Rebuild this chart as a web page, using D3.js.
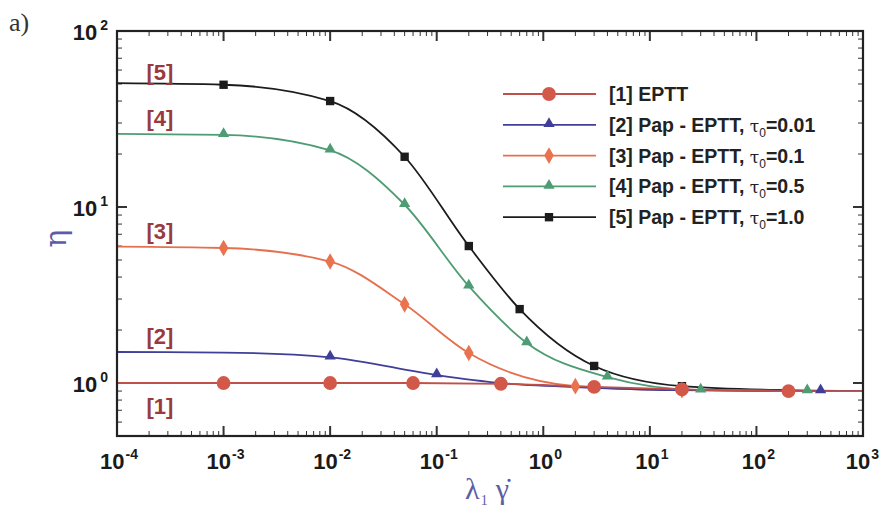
<!DOCTYPE html>
<html>
<head>
<meta charset="utf-8">
<script src="https://cdn.jsdelivr.net/npm/d3@7"></script>
<style>
  body { margin: 0; background: #fff; }
  svg { display: block; }
  .tick-label { font-family: "Liberation Sans", Arial, sans-serif; font-weight: bold; fill: #1a1a1a; }
  .legend-text { font-family: "Liberation Sans", Arial, sans-serif; font-weight: bold; fill: #222; font-size: 19.5px; }
  .series-label { font-family: "Liberation Sans", Arial, sans-serif; font-weight: bold; fill: #9a3a3c; font-size: 22px; }
</style>
</head>
<body>
<div id="chart"></div>
<script>
// values (x = lambda1*gammadot, y = eta)
const xDomain = [1e-4, 1e3]
const yDomain = [0.5, 100]
const xTickExps = [-4, -3, -2, -1, 0, 1, 2, 3]
const yTickExps = [0, 1, 2]

const legendNames = ['[1] EPTT', '[2] Pap - EPTT, ', '[3] Pap - EPTT, ', '[4] Pap - EPTT, ', '[5] Pap - EPTT, ']
const tauValues = [null, '0.01', '0.1', '0.5', '1.0']
const curveLabels = ['[1]', '[2]', '[3]', '[4]', '[5]']
const labelAnchorY = [0.67, 1.67, 6.6, 29, 52.5]  // eta level the [n] label sits at

// curve knots
const s1LineX = [1e-4, 1e-3, 1e-2, 0.06, 0.4, 3, 20, 200, 1e3]
const s1LineY = [1.0, 1.0, 1.0, 1.0, 0.99, 0.95, 0.92, 0.9, 0.9]
const s2LineX = [1e-4, 1e-3, 1e-2, 0.1, 0.4, 3, 20, 400, 1e3]
const s2LineY = [1.5, 1.49, 1.4, 1.11, 1.0, 0.94, 0.91, 0.9, 0.9]
const s3LineX = [1e-4, 1e-3, 1e-2, 0.05, 0.2, 2, 20, 1e3]
const s3LineY = [5.95, 5.85, 4.9, 2.8, 1.48, 0.96, 0.91, 0.9]
const s4LineX = [1e-4, 1e-3, 1e-2, 0.05, 0.2, 0.7, 4, 30, 300, 1e3]
const s4LineY = [26, 25.7, 21, 10.3, 3.55, 1.69, 1.08, 0.91, 0.9, 0.9]
const s5LineX = [1e-4, 1e-3, 1e-2, 0.05, 0.2, 0.6, 3, 20, 200, 1e3]
const s5LineY = [50.5, 49.5, 40, 19.3, 6.0, 2.63, 1.25, 0.96, 0.91, 0.9]

// symbols
const s1MarkX = [1e-3, 1e-2, 0.06, 0.4, 3, 20, 200]
const s1MarkY = [1.0, 1.0, 1.0, 0.99, 0.95, 0.92, 0.9]
const s2MarkX = [1e-2, 0.1, 400]
const s2MarkY = [1.4, 1.11, 0.9]
const s3MarkX = [1e-3, 1e-2, 0.05, 0.2, 2, 20]
const s3MarkY = [5.85, 4.9, 2.8, 1.48, 0.96, 0.91]
const s4MarkX = [1e-3, 1e-2, 0.05, 0.2, 0.7, 4, 30, 300]
const s4MarkY = [25.7, 21, 10.3, 3.55, 1.69, 1.08, 0.91, 0.9]
const s5MarkX = [1e-3, 1e-2, 0.05, 0.2, 0.6, 3, 20, 200]
const s5MarkY = [49.5, 40, 19.3, 6.0, 2.63, 1.25, 0.96, 0.91]

const series = [
  { line: [s1LineX, s1LineY], mark: [s1MarkX, s1MarkY], color: '#c0504a', fill: '#d2584a', symbol: d3.symbolCircle, size: 150 },
  { line: [s2LineX, s2LineY], mark: [s2MarkX, s2MarkY], color: '#3f3f9a', fill: '#3f3f9a', symbol: d3.symbolTriangle, size: 55 },
  { line: [s3LineX, s3LineY], mark: [s3MarkX, s3MarkY], color: '#e5704e', fill: '#e8734e', symbol: d3.symbolDiamond, size: 80 },
  { line: [s4LineX, s4LineY], mark: [s4MarkX, s4MarkY], color: '#4f9c74', fill: '#4f9c74', symbol: d3.symbolTriangle, size: 55 },
  { line: [s5LineX, s5LineY], mark: [s5MarkX, s5MarkY], color: '#1c1c1c', fill: '#1c1c1c', symbol: d3.symbolSquare, size: 70 }
]

const width = 880
const height = 508
const margin = { top: 31, right: 17, bottom: 72, left: 117 }

const svg = d3.select('#chart').append('svg')
  .attr('width', width)
  .attr('height', height)

const x = d3.scaleLog().domain(xDomain).range([margin.left, width - margin.right])
const y = d3.scaleLog().domain(yDomain).range([height - margin.bottom, margin.top])

const plotL = x.range()[0], plotR = x.range()[1]
const plotT = y.range()[1], plotB = y.range()[0]

// minor/major ticks on all four sides, pointing inward
const xMinor = x.ticks(70).filter(v => v >= xDomain[0] && v <= xDomain[1])
const yMinor = y.ticks(30).filter(v => v >= yDomain[0] && v <= yDomain[1])
const isMajor = v => Math.abs(Math.log10(v) - Math.round(Math.log10(v))) < 1e-9

const ticks = svg.append('g').attr('stroke', '#333')
xMinor.forEach(v => {
  const len = isMajor(v) ? 10 : 5
  ticks.append('line').attr('x1', x(v)).attr('x2', x(v)).attr('y1', plotB).attr('y2', plotB - len)
    .attr('stroke-width', isMajor(v) ? 2 : 1)
  ticks.append('line').attr('x1', x(v)).attr('x2', x(v)).attr('y1', plotT).attr('y2', plotT + len)
    .attr('stroke-width', isMajor(v) ? 2 : 1)
})
yMinor.forEach(v => {
  const len = isMajor(v) ? 10 : 5
  ticks.append('line').attr('y1', y(v)).attr('y2', y(v)).attr('x1', plotL).attr('x2', plotL + len)
    .attr('stroke-width', isMajor(v) ? 2 : 1)
  ticks.append('line').attr('y1', y(v)).attr('y2', y(v)).attr('x1', plotR).attr('x2', plotR - len)
    .attr('stroke-width', isMajor(v) ? 2 : 1)
})

// curves
const lineGen = d3.line()
  .x(d => x(d[0]))
  .y(d => y(d[1]))
  .curve(d3.curveMonotoneX)

const plot = svg.append('g')
series.slice().reverse().forEach(s => {
  const pts = d3.zip(s.line[0], s.line[1])
  plot.append('path')
    .attr('d', lineGen(pts))
    .attr('fill', 'none')
    .attr('stroke', s.color)
    .attr('stroke-width', 1.8)
})
series.slice().reverse().forEach(s => {
  const pts = d3.zip(s.mark[0], s.mark[1])
  plot.selectAll(null)
    .data(pts)
    .enter()
    .append('path')
    .attr('d', d3.symbol().type(s.symbol).size(s.size))
    .attr('transform', d => `translate(${x(d[0])},${y(d[1]) + (s.symbol === d3.symbolTriangle ? -1 : 0)})`)
    .attr('fill', s.fill)
})

// frame
svg.append('rect')
  .attr('x', plotL).attr('y', plotT)
  .attr('width', plotR - plotL).attr('height', plotB - plotT)
  .attr('fill', 'none').attr('stroke', '#222').attr('stroke-width', 2.2)

// tick labels
xTickExps.forEach((e, i) => {
  const last = i === xTickExps.length - 1
  const t = svg.append('text').attr('class', 'tick-label')
    .attr('x', last ? width - 1 : x(Math.pow(10, e)) + 2).attr('y', plotB + 33)
    .attr('text-anchor', last ? 'end' : 'middle')
  t.append('tspan').attr('font-size', 22).text('10')
  t.append('tspan').attr('font-size', 14).attr('dy', -10).attr('dx', 1).text(e < 0 ? '-' + (-e) : e)
})
yTickExps.forEach(e => {
  const t = svg.append('text').attr('class', 'tick-label')
    .attr('x', plotL - 9).attr('y', y(Math.pow(10, e)) + 9)
    .attr('text-anchor', 'end')
  t.append('tspan').attr('font-size', 22).text('10')
  t.append('tspan').attr('font-size', 14).attr('dy', -10).attr('dx', 3).text(e)
})

// axis titles
svg.append('text')
  .attr('transform', `translate(66,${(plotT + plotB) / 2 + 5}) rotate(-90)`)
  .attr('text-anchor', 'middle')
  .attr('font-family', '"DejaVu Serif", "Liberation Serif", serif')
  .attr('font-size', 30)
  .attr('fill', '#5c5ca8')
  .text('η')

const xt = svg.append('text')
  .attr('x', 487).attr('y', 499)
  .attr('text-anchor', 'middle')
  .attr('font-family', '"Liberation Serif", "DejaVu Serif", serif')
  .attr('font-size', 30)
  .attr('fill', '#5c5ca8')
xt.append('tspan').text('λ')
xt.append('tspan').attr('font-size', 14).attr('dy', 6).attr('dx', 1).text('1')
xt.append('tspan').attr('dy', -6).attr('dx', 8).text('γ̇')

svg.append('text')
  .attr('x', 9).attr('y', 31)
  .attr('font-family', '"Liberation Serif", "DejaVu Serif", serif')
  .attr('font-size', 26)
  .attr('fill', '#333')
  .text('a)')

// [n] labels next to the left ends of the curves
curveLabels.forEach((lab, i) => {
  svg.append('text').attr('class', 'series-label')
    .attr('x', 160).attr('y', y(labelAnchorY[i]))
    .attr('text-anchor', 'middle')
    .text(lab)
})

// legend
const legend = svg.append('g')
const rowY = d3.range(5).map(i => 94 + i * 30.8)
series.forEach((s, i) => {
  const ry = rowY[i]
  legend.append('line')
    .attr('x1', 503).attr('x2', 596).attr('y1', ry).attr('y2', ry)
    .attr('stroke', s.color).attr('stroke-width', 1.8)
  legend.append('path')
    .attr('d', d3.symbol().type(s.symbol).size(s.size))
    .attr('transform', `translate(549,${ry + (s.symbol === d3.symbolTriangle ? -1 : 0)})`)
    .attr('fill', s.fill)
  const t = legend.append('text').attr('class', 'legend-text')
    .attr('x', 609).attr('y', ry + 7)
  t.append('tspan').text(legendNames[i])
  if (tauValues[i]) {
    t.append('tspan').attr('font-weight', 'normal').attr('font-family', '"DejaVu Serif", serif').attr('font-size', 17).text('τ')
    t.append('tspan').attr('font-weight', 'normal').attr('font-size', 12).attr('dy', 5).text('0')
    t.append('tspan').attr('dy', -5).text('=' + tauValues[i])
  }
})
</script>
</body>
</html>
